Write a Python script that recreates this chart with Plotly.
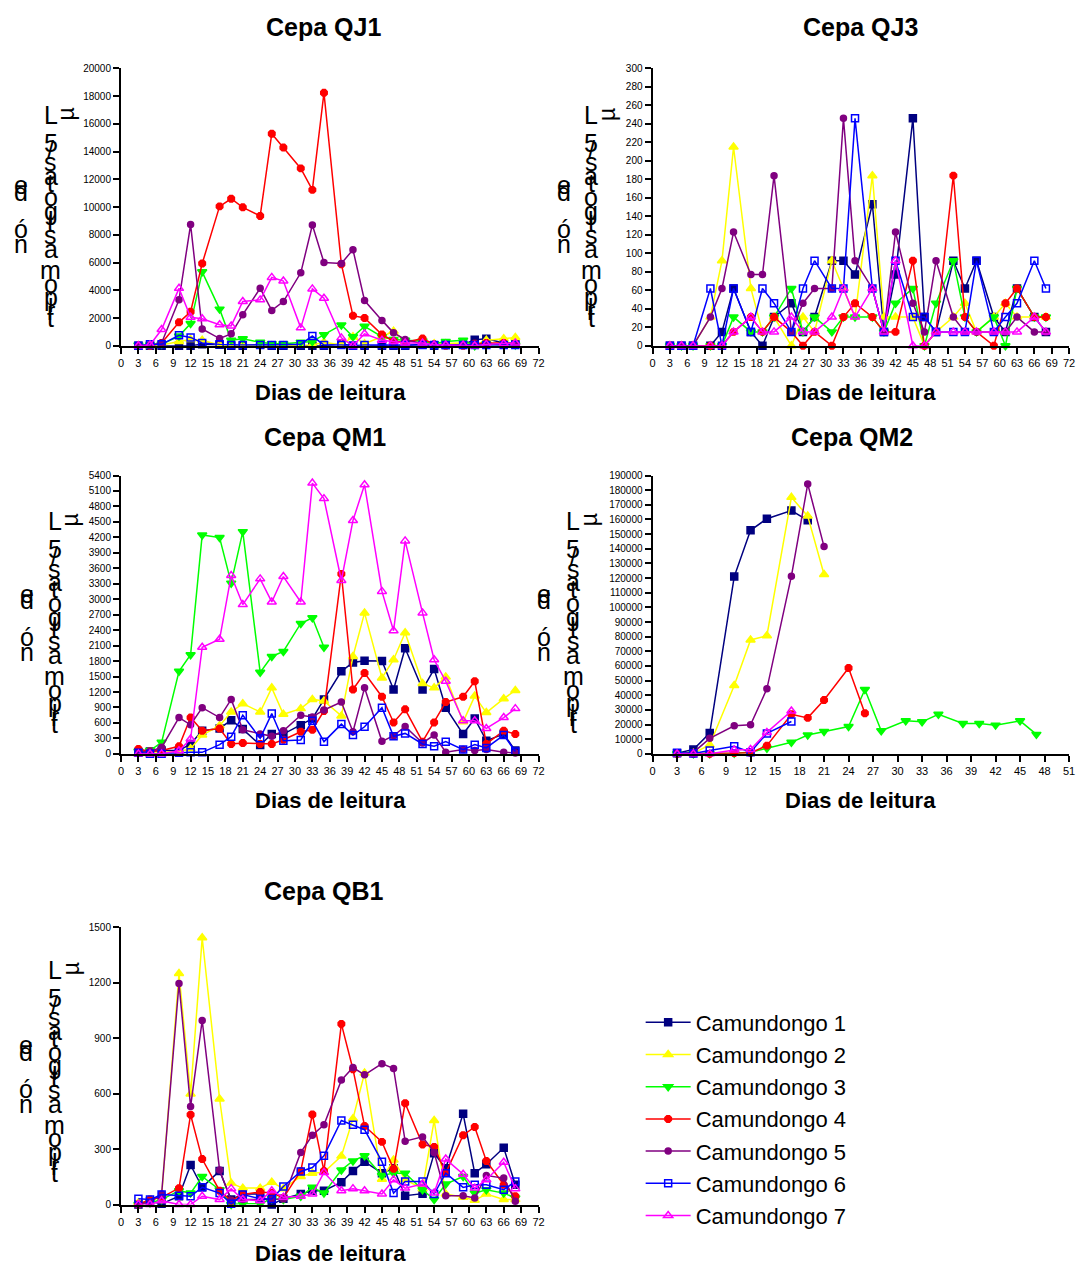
import plotly.graph_objects as go

W, H = 1083, 1270
FONT = "Arial, Liberation Sans, sans-serif"

# ---------------- data ----------------
names = ["Camundongo 1", "Camundongo 2", "Camundongo 3", "Camundongo 4",
         "Camundongo 5", "Camundongo 6", "Camundongo 7"]
days = [3, 5, 7, 10, 12, 14, 17, 19, 21, 24, 26, 28, 31, 33, 35, 38, 40, 42,
        45, 47, 49, 52, 54, 56, 59, 61, 63, 66, 68]
days_qm2 = [3, 5, 7, 10, 12, 14, 17, 19, 21, 24, 26, 28, 31, 33, 35, 38, 40, 42, 45, 47]

qj1_c1 = [0, 0, 0, 0, 0, 100, 80, 0, 0, 100, 0, 0, 0, 0, 0, 120, 0, 0, 0, 0, 0, 100, 0, 50, 80, 430, 500, 200, 200]
qj1_c2 = [0, 0, 50, 300, 450, 400, 50, 0, 0, 0, 0, 0, 50, 50, 250, 50, 650, 150, 650, 1050, 300, 400, 150, 150, 200, 0, 400, 500, 600]
qj1_c3 = [50, 50, 100, 700, 1600, 5330, 2640, 400, 500, 250, 150, 150, 250, 300, 800, 1500, 650, 1400, 650, 450, 400, 350, 150, 300, 400, 0, 100, 100, 50]
qj1_c4 = [0, 0, 200, 1690, 2450, 5930, 10050, 10600, 9980, 9360, 15290, 14290, 12790, 11240, 18240, 5880, 2170, 2000, 810, 330, 250, 520, 100, 0, 0, 150, 200, 200, 150]
qj1_c5 = [0, 0, 200, 3310, 8740, 1210, 520, 860, 2240, 4140, 2550, 3190, 5260, 8710, 6000, 5930, 6930, 3260, 1830, 930, 450, 150, 100, 50, 50, 100, 100, 100, 100]
qj1_c6 = [0, 100, 100, 750, 600, 200, 100, 50, 50, 50, 50, 50, 100, 700, 50, 50, 0, 50, 50, 50, 50, 50, 50, 50, 50, 50, 50, 50, 50]
qj1_c7 = [0, 50, 1170, 4140, 2050, 1950, 1520, 1430, 3190, 3310, 4930, 4670, 1290, 4100, 3430, 570, 0, 860, 400, 300, 200, 200, 50, 50, 50, 0, 100, 150, 200]

qj3_c1 = [0, 0, 0, 0, 15, 62, 15, 0, 31, 46, 15, 31, 92, 92, 77, 153, 15, 77, 246, 31, 15, 92, 62, 92, 31, 15, 62, 31, 15]
qj3_c2 = [0, 0, 0, 31, 92, 215, 62, 15, 31, 0, 31, 15, 92, 62, 31, 184, 31, 31, 31, 0, 15, 31, 46, 15, 31, 46, 31, 31, 31]
qj3_c3 = [0, 0, 0, 0, 0, 31, 15, 15, 31, 62, 15, 31, 15, 31, 31, 31, 15, 46, 62, 0, 46, 92, 31, 15, 31, 0, 62, 31, 31]
qj3_c4 = [0, 0, 0, 0, 0, 15, 31, 15, 31, 15, 0, 15, 0, 31, 46, 31, 15, 15, 92, 0, 15, 184, 31, 15, 0, 46, 62, 31, 31]
qj3_c5 = [0, 0, 0, 31, 62, 123, 77, 77, 184, 15, 46, 62, 62, 246, 92, 62, 15, 123, 46, 15, 92, 31, 15, 15, 15, 15, 31, 15, 15]
qj3_c6 = [0, 0, 0, 62, 0, 62, 15, 62, 46, 15, 62, 92, 62, 62, 246, 62, 15, 92, 31, 31, 15, 15, 15, 92, 15, 31, 46, 92, 62]
qj3_c7 = [0, 0, 0, 0, 0, 15, 31, 15, 15, 31, 15, 15, 31, 62, 31, 62, 15, 92, 0, 0, 15, 15, 15, 15, 15, 15, 15, 31, 15]

qm1_c1 = [30, 45, 64, 64, 192, 448, 493, 653, 480, 173, 384, 384, 557, 685, 1057, 1601, 1774, 1806, 1800, 1249, 2050, 1249, 1646, 897, 384, 685, 256, 384, 64]
qm1_c2 = [0, 0, 30, 45, 100, 365, 545, 813, 974, 813, 1281, 769, 878, 1057, 1025, 737, 1890, 2735, 1473, 1826, 2351, 1364, 1281, 1493, 621, 1121, 801, 1070, 1230]
qm1_c3 = [50, 64, 224, 1601, 1922, 4247, 4196, 3312, 4311, 1582, 1890, 1986, 2530, 2639, 2069]
qm1_c4 = [96, 45, 64, 147, 705, 448, 493, 192, 211, 192, 192, 275, 429, 468, 833, 3491, 1249, 1569, 1108, 609, 865, 237, 609, 1006, 1108, 1409, 192, 448, 384]
qm1_c5 = [30, 45, 128, 705, 564, 897, 705, 1057, 468, 384, 340, 448, 750, 717, 852, 1006, 429, 1281, 243, 352, 532, 211, 365, 32, 83, 64, 83, 32, 19]
qm1_c6 = [20, 0, 0, 20, 30, 30, 179, 333, 750, 301, 782, 256, 269, 641, 237, 577, 365, 525, 897, 340, 397, 192, 147, 237, 83, 179, 115, 365, 45]
qm1_c7 = [0, 0, 0, 60, 288, 2069, 2223, 3459, 2896, 3395, 2947, 3440, 2947, 5253, 4952, 3363, 4529, 5221, 3152, 2389, 4132, 2735, 1826, 1409, 641, 641, 493, 705, 878]

qm2_c1 = [500, 2930, 14200, 121000, 152600, 160500, 166100, 159400]
qm2_c2 = [0, 500, 6086, 46660, 77760, 80700, 175100, 162300, 122400]
qm2_c3 = [0, 0, 0, 450, 1127, 3830, 7890, 12850, 15330, 18700, 43950, 15780, 22540, 21860, 27050, 20740, 20740, 19610, 22540, 13300]
qm2_c4 = [0, 0, 0, 500, 676, 5635, 27050, 24570, 36740, 58600, 27720]
qm2_c5 = [0, 1000, 10600, 19160, 19840, 44400, 121300, 184200, 141500]
qm2_c6 = [676, 300, 2254, 5184, 1127, 13975, 22090]
qm2_c7 = [0, 0, 0, 2700, 2930, 14650, 29300]

qb1_c1 = [0, 18, 4, 45, 214, 93, 182, 27, 57, 57, 0, 32, 57, 75, 75, 121, 182, 232, 170, 196, 48, 59, 277, 196, 491, 170, 218, 307, 107]
qb1_c2 = [10, 18, 45, 1250, 598, 1443, 571, 116, 89, 89, 121, 86, 152, 170, 175, 262, 464, 711, 137, 241, 134, 86, 455, 57, 39, 23, 57, 27, 27]
qb1_c3 = [0, 9, 27, 75, 62, 152, 80, 0, 4, 4, 32, 27, 45, 93, 62, 187, 236, 264, 157, 170, 170, 80, 27, 111, 152, 62, 80, 62, 36]
qb1_c4 = [0, 27, 39, 89, 486, 246, 75, 21, 54, 68, 62, 36, 182, 487, 182, 977, 732, 425, 339, 193, 548, 325, 312, 170, 375, 420, 236, 107, 45]
qb1_c5 = [0, 14, 57, 1196, 530, 996, 187, 21, 27, 27, 30, 30, 282, 375, 432, 673, 741, 702, 762, 736, 343, 366, 282, 48, 48, 36, 157, 143, 18]
qb1_c6 = [32, 27, 54, 48, 45, 93, 62, 4, 54, 32, 30, 98, 179, 200, 264, 455, 432, 405, 232, 62, 125, 125, 57, 170, 93, 107, 107, 80, 125]
qb1_c7 = [0, 0, 21, 0, 0, 45, 27, 86, 27, 21, 75, 39, 45, 57, 173, 75, 86, 75, 57, 134, 89, 111, 62, 246, 164, 89, 134, 229, 86]

panel_titles = ["Cepa QJ1", "Cepa QJ3", "Cepa QM1", "Cepa QM2", "Cepa QB1"]
x_title = "Dias de leitura"
y_title_a = "nó de"            # as drawn: stacked upright glyphs
y_title_b = "tripomastigotas/5"
y_title_mu = "µ"
y_title_L = "L"

# ---------------- styles ----------------
colors = ["#000080", "#FFFF00", "#00FF00", "#FF0000", "#800080", "#0000FF", "#FF00FF"]
symbols = ["square", "triangle-up", "triangle-down", "octagon", "circle",
           "square-open", "triangle-up-open"]
msizes = [7, 8, 8, 7, 6, 7, 8]

def px_x(p):
    return p / W

def px_y(p):
    return 1 - p / H

panels = [
    dict(series=[qj1_c1, qj1_c2, qj1_c3, qj1_c4, qj1_c5, qj1_c6, qj1_c7], x=days,
         ymax=20000, dy=2000, xmax=72, box=(119, 540, 63, 343), yt=(18, 48, 120, 250),
         title=(323, 21), xt=(330, 390)),
    dict(series=[qj3_c1, qj3_c2, qj3_c3, qj3_c4, qj3_c5, qj3_c6, qj3_c7], x=days,
         ymax=300, dy=20, xmax=72, box=(655, 1075, 63, 343), yt=(566, 593, 120, 250),
         title=(865, 21), xt=(865, 390)),
    dict(series=[qm1_c1, qm1_c2, qm1_c3, qm1_c4, qm1_c5, qm1_c6, qm1_c7], x=days,
         ymax=5400, dy=300, xmax=72, box=(119, 540, 474, 755), yt=(24, 52, 530, 662),
         title=(325, 435), xt=(330, 802)),
    dict(series=[qm2_c1, qm2_c2, qm2_c3, qm2_c4, qm2_c5, qm2_c6, qm2_c7], x=days_qm2,
         ymax=190000, dy=10000, xmax=51, box=(655, 1075, 474, 755), yt=(546, 575, 530, 662),
         title=(856, 435), xt=(865, 802)),
    dict(series=[qb1_c1, qb1_c2, qb1_c3, qb1_c4, qb1_c5, qb1_c6, qb1_c7], x=days,
         ymax=1500, dy=300, xmax=72, box=(119, 540, 930, 1210), yt=(23, 52, 983, 1118),
         title=(324, 893), xt=(330, 1259)),
]

# Arial advance widths (em) for the stacked-title layout
ADV = {"t": .278, "r": .333, "i": .222, "p": .556, "o": .556, "m": .833, "a": .556,
       "s": .5, "g": .556, "/": .278, "5": .556, "L": .556, "µ": .576}
F = 25
DESC = 0.212 * F

fig = go.Figure()
annotations = []
layout_axes = {}

for k, p in enumerate(panels):
    xa = "xaxis" if k == 0 else f"xaxis{k+1}"
    ya = "yaxis" if k == 0 else f"yaxis{k+1}"
    xref = "x" if k == 0 else f"x{k+1}"
    yref = "y" if k == 0 else f"y{k+1}"
    x0, x1, yt, yb = p["box"]
    layout_axes[xa] = dict(domain=[px_x(x0), px_x(x1)], anchor=yref, range=[0, p["xmax"]],
                           tick0=0, dtick=3, showline=True, linecolor="black", linewidth=2,
                           ticks="outside", ticklen=6, tickwidth=1.5, tickcolor="black",
                           showgrid=False, zeroline=False,
                           tickfont=dict(family=FONT, size=11, color="black"))
    layout_axes[ya] = dict(domain=[px_y(yb), px_y(yt)], anchor=xref, range=[0, p["ymax"]],
                           tick0=0, dtick=p["dy"], showline=True, linecolor="black", linewidth=2,
                           ticks="outside", ticklen=6, tickwidth=1.5, tickcolor="black",
                           showgrid=False, zeroline=False, tickformat="d",
                           tickfont=dict(family=FONT, size=10, color="black"))
    for i, ys in enumerate(p["series"]):
        fig.add_trace(go.Scatter(
            x=p["x"][:len(ys)], y=ys, xaxis=xref, yaxis=yref, name=names[i],
            mode="lines+markers", cliponaxis=False,
            line=dict(color=colors[i], width=1.5),
            marker=dict(symbol=symbols[i], size=msizes[i], color=colors[i],
                        line=dict(color=colors[i], width=1.5)),
            showlegend=(k == 4), legendgroup=f"g{i}"))
    annotations.append(dict(text=f"<b>{panel_titles[k]}</b>", x=px_x(p["title"][0]), y=px_y(p["title"][1]),
                            xref="paper", yref="paper", xanchor="center", yanchor="middle",
                            showarrow=False, font=dict(family=FONT, size=25, color="black")))
    annotations.append(dict(text=f"<b>{x_title}</b>", x=px_x(p["xt"][0]), y=px_y(p["xt"][1]),
                            xref="paper", yref="paper", xanchor="center", yanchor="middle",
                            showarrow=False, font=dict(family=FONT, size=22, color="black")))
    # stacked y title, column B: baseline-based placement
    c1x, c2x, baseL, base_n = p["yt"]
    cum_before_L = sum(ADV[c] for c in y_title_b) + ADV["µ"]
    y0 = baseL + F * cum_before_L
    cum = 0.0
    for ch in y_title_b:
        base = y0 - F * cum
        annotations.append(dict(text=ch, x=px_x(c2x), y=px_y(base + DESC), xref="paper", yref="paper",
                                xanchor="center", yanchor="bottom", borderpad=0, showarrow=False,
                                font=dict(family=FONT, size=F, color="black")))
        cum += ADV[ch]
    annotations.append(dict(text=y_title_L, x=px_x(c2x), y=px_y(baseL + DESC), xref="paper", yref="paper",
                            xanchor="center", yanchor="bottom", borderpad=0, showarrow=False,
                            font=dict(family=FONT, size=F, color="black")))
    annotations.append(dict(text=y_title_mu, x=px_x(c2x + 16), y=px_y(baseL - 11), xref="paper", yref="paper",
                            xanchor="center", yanchor="middle", borderpad=0, showarrow=False, textangle=-90,
                            font=dict(family=FONT, size=F - 2, color="black")))
    offs = {"n": 0, "ó": -15, "d": -52, "e": -59}
    for ch in ["e", "d", "ó", "n"]:
        annotations.append(dict(text=ch, x=px_x(c1x), y=px_y(base_n + offs[ch] + DESC), xref="paper", yref="paper",
                                xanchor="center", yanchor="bottom", borderpad=0, showarrow=False,
                                font=dict(family=FONT, size=F, color="black")))

fig.update_layout(
    width=W, height=H, margin=dict(l=0, r=0, t=0, b=0),
    paper_bgcolor="white", plot_bgcolor="white",
    annotations=annotations,
    legend=dict(x=px_x(643), y=px_y(1005), xanchor="left", yanchor="top",
                font=dict(family=FONT, size=22, color="black"),
                bgcolor="rgba(0,0,0,0)", tracegroupgap=0.6, itemwidth=45),
    **layout_axes,
)

fig.write_html("out.html")
